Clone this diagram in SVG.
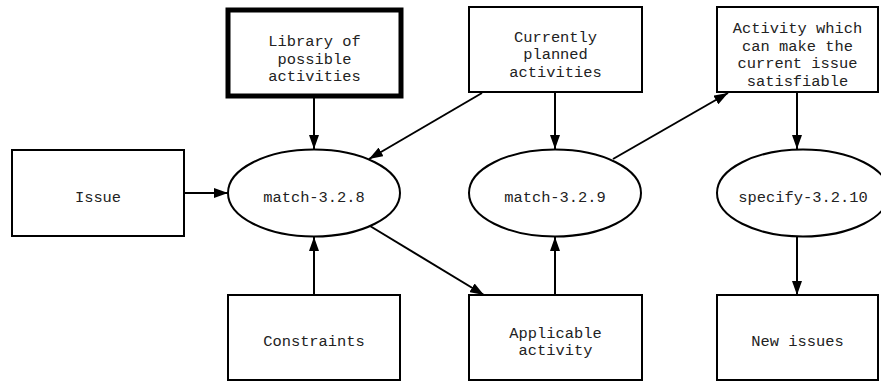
<svg xmlns="http://www.w3.org/2000/svg" width="881" height="381" viewBox="0 0 881 381">
  <defs>
    <marker id="arrow" markerWidth="14" markerHeight="10" refX="14" refY="5" orient="auto" markerUnits="userSpaceOnUse">
      <path d="M0,0 L14,5 L0,10 Z" fill="#000"/>
    </marker>
    <style>
      .box { fill: #fff; stroke: #000; stroke-width: 2; }
      .lib { fill: #fff; stroke: #000; stroke-width: 5; }
      .proc { fill: #fff; stroke: #000; stroke-width: 2; }
      .label { font-family: "Liberation Mono", "Courier New", monospace; font-size: 15.4px; fill: #222; text-anchor: middle; }
      .edge { fill: none; stroke: #000; stroke-width: 2; marker-end: url(#arrow); }
    </style>
  </defs>
  <rect width="881" height="381" fill="#fff"/>

  <!-- data nodes -->
  <g id="library">
    <rect class="lib" x="228" y="10" width="173" height="86"/>
    <text class="label" x="314.5" y="46">Library of</text>
    <text class="label" x="314.5" y="63.5">possible</text>
    <text class="label" x="314.5" y="81">activities</text>
  </g>
  <g id="planned">
    <rect class="box" x="469" y="7" width="173" height="85"/>
    <text class="label" x="555.5" y="41.5">Currently</text>
    <text class="label" x="555.5" y="59">planned</text>
    <text class="label" x="555.5" y="76.5">activities</text>
  </g>
  <g id="candidate">
    <rect class="box" x="717" y="7" width="161" height="85"/>
    <text class="label" x="797.5" y="33">Activity which</text>
    <text class="label" x="797.5" y="50.5">can make the</text>
    <text class="label" x="797.5" y="68">current issue</text>
    <text class="label" x="797.5" y="85.5">satisfiable</text>
  </g>
  <g id="issue">
    <rect class="box" x="12" y="150" width="172" height="86"/>
    <text class="label" x="98" y="201.5">Issue</text>
  </g>
  <g id="constraints">
    <rect class="box" x="228" y="295" width="172" height="85"/>
    <text class="label" x="314" y="346">Constraints</text>
  </g>
  <g id="applicable">
    <rect class="box" x="469" y="295" width="173" height="85"/>
    <text class="label" x="555.5" y="337.5">Applicable</text>
    <text class="label" x="555.5" y="355">activity</text>
  </g>
  <g id="new-issues">
    <rect class="box" x="717" y="295" width="161" height="85"/>
    <text class="label" x="797.5" y="346">New issues</text>
  </g>

  <!-- process nodes -->
  <g id="match-3.2.8">
    <ellipse class="proc" cx="314" cy="193" rx="86" ry="43.5"/>
    <text class="label" x="314" y="201.5">match-3.2.8</text>
  </g>
  <g id="match-3.2.9">
    <ellipse class="proc" cx="555" cy="193" rx="86" ry="43.5"/>
    <text class="label" x="555" y="201.5">match-3.2.9</text>
  </g>
  <g id="specify-3.2.10">
    <ellipse class="proc" cx="803" cy="193" rx="86" ry="43.5"/>
    <text class="label" x="803" y="201.5">specify-3.2.10</text>
  </g>

  <!-- connectors -->
  <g id="edges">
    <line class="edge" x1="314" y1="97" x2="314" y2="149"/>
    <line class="edge" x1="482" y1="93" x2="369" y2="159"/>
    <line class="edge" x1="555" y1="92" x2="555" y2="149"/>
    <line class="edge" x1="613" y1="159" x2="728" y2="93"/>
    <line class="edge" x1="797" y1="92" x2="797" y2="149"/>
    <line class="edge" x1="184" y1="193" x2="228" y2="193"/>
    <line class="edge" x1="370" y1="226" x2="484" y2="295"/>
    <line class="edge" x1="314" y1="295" x2="314" y2="237"/>
    <line class="edge" x1="555" y1="295" x2="555" y2="237"/>
    <line class="edge" x1="797" y1="237" x2="797" y2="295"/>
  </g>
</svg>
